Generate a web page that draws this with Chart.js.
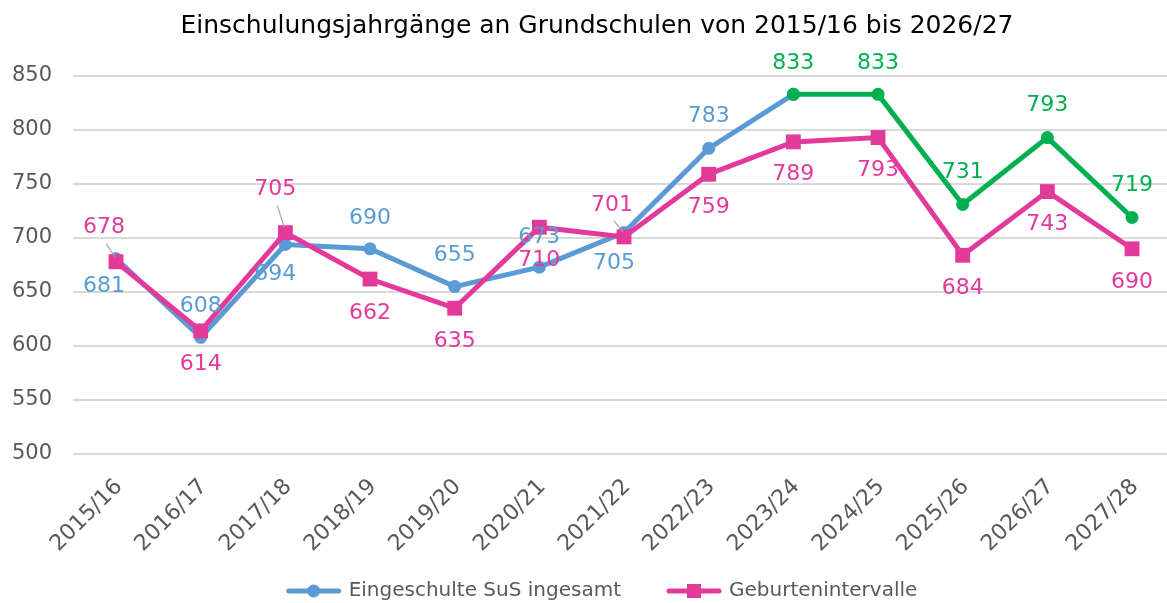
<!DOCTYPE html>
<html lang="de">
<head>
  <meta charset="UTF-8">
  <title>Einschulungsjahrgänge</title>
  <script src="https://cdn.jsdelivr.net/npm/chart.js"></script>
  <style>
    html, body {
      margin: 0;
      padding: 0;
      background: #ffffff;
    }
    .chart-box {
      position: relative;
      width: 1167px;
      height: 603px;
    }
  </style>
</head>
<body>
  <div class="chart-box">
    <canvas id="chart"></canvas>
  </div>
  <script>
    // Data
    const years = ['2015/16', '2016/17', '2017/18', '2018/19', '2019/20', '2020/21', '2021/22',
                   '2022/23', '2023/24', '2024/25', '2025/26', '2026/27', '2027/28'];
    const enrolled = [681, 608, 694, 690, 655, 673, 705, 783, 833, null, null, null, null];
    const forecast = [null, null, null, null, null, null, null, null, 833, 833, 731, 793, 719];
    const births = [678, 614, 705, 662, 635, 710, 701, 759, 789, 793, 684, 743, 690];
    const yTicks = [500, 550, 600, 650, 700, 750, 800, 850];

    const titleText = 'Einschulungsjahrgänge an Grundschulen von 2015/16 bis 2026/27';
    const FONT = "'DejaVu Sans', Verdana, sans-serif";

    const BLUE = '#5b9bd5';
    const PINK = '#e2399b';
    const GREEN = '#00b050';
    const GREY = '#595959';

    // label placement: [dx, dy, leader line?]
    const enrolledLabelPos = [[-12, 28], [0, -31], [-10, 30], [0, -31], [0, -31], [0, -30],
                              [-10, 31], [0, -32], null];
    const forecastLabelPos = [null, null, null, null, null, null, null, null,
                              [0, -31], [0, -31], [0, -32], [0, -32], [0, -32]];
    const birthsLabelPos = [[-12, -34, true], [0, 33], [-10, -43, true], [0, 34], [0, 33], [0, 33],
                            [-12, -32, true], [0, 33], [0, 32], [0, 33], [0, 33], [0, 33], [0, 33]];

    function toPoints(values) {
      return values.map((v, i) => ({ x: i, y: v }));
    }

    function drawGlyph(ctx, x, y, color, shape) {
      ctx.strokeStyle = color;
      ctx.lineWidth = 5;
      ctx.lineCap = 'round';
      ctx.beginPath();
      ctx.moveTo(x + 2, y);
      ctx.lineTo(x + 52, y);
      ctx.stroke();
      ctx.fillStyle = color;
      if (shape === 'circle') {
        ctx.beginPath();
        ctx.arc(x + 27, y, 6.5, 0, Math.PI * 2);
        ctx.fill();
      } else {
        ctx.fillRect(x + 20, y - 7, 14, 14);
      }
    }

    const titlePlugin = {
      id: 'titleText',
      afterDraw(chart) {
        const ctx = chart.ctx;
        ctx.save();
        ctx.font = '25px ' + FONT;
        ctx.fillStyle = '#000000';
        ctx.textAlign = 'center';
        ctx.textBaseline = 'middle';
        ctx.fillText(titleText, 597, 26);
        ctx.restore();
      }
    };

    // legend: line with marker, like the spreadsheet one; forecast series left out
    const legendPlugin = {
      id: 'lineLegend',
      afterDraw(chart) {
        const ctx = chart.ctx;
        const items = [chart.data.datasets[0], chart.data.datasets[2]];
        ctx.save();
        ctx.font = '20px ' + FONT;
        ctx.textBaseline = 'middle';
        ctx.textAlign = 'left';
        const widths = items.map(ds => 54 + 8 + ctx.measureText(ds.label).width);
        const gap = 46;
        let x = 602 - (widths[0] + widths[1] + gap) / 2;
        const y = 591;
        items.forEach((ds, i) => {
          drawGlyph(ctx, x, y, ds.borderColor, ds.pointStyle === 'rect' ? 'rect' : 'circle');
          ctx.fillStyle = GREY;
          ctx.fillText(ds.label, x + 62, y);
          x += widths[i] + gap;
        });
        ctx.restore();
      }
    };

    const valueLabels = {
      id: 'valueLabels',
      afterDatasetsDraw(chart) {
        const ctx = chart.ctx;
        ctx.save();
        ctx.font = '22px ' + FONT;
        ctx.textAlign = 'center';
        ctx.textBaseline = 'middle';
        chart.data.datasets.forEach((ds, di) => {
          const meta = chart.getDatasetMeta(di);
          meta.data.forEach((pt, i) => {
            const v = ds.data[i].y;
            const pos = ds.labelPos[i];
            if (v == null || !pos) return;
            const lx = pt.x + pos[0];
            const ly = pt.y + pos[1];
            if (pos[2]) {
              ctx.strokeStyle = '#a6a6a6';
              ctx.lineWidth = 1.2;
              ctx.beginPath();
              ctx.moveTo(lx + 2, ly + 16);
              ctx.lineTo(pt.x - 1, pt.y - 5);
              ctx.stroke();
            }
            ctx.fillStyle = ds.borderColor;
            ctx.fillText(String(v), lx, ly);
          });
        });
        ctx.restore();
      }
    };

    new Chart(document.getElementById('chart'), {
      type: 'line',
      data: {
        datasets: [
          {
            label: 'Eingeschulte SuS ingesamt',
            data: toPoints(enrolled),
            labelPos: enrolledLabelPos,
            borderColor: BLUE,
            backgroundColor: BLUE,
            borderWidth: 5,
            pointStyle: 'circle',
            pointRadius: 6.5,
            pointHoverRadius: 6.5,
            pointBorderWidth: 0,
            order: 2
          },
          {
            label: 'Prognose',
            data: toPoints(forecast),
            labelPos: forecastLabelPos,
            borderColor: GREEN,
            backgroundColor: GREEN,
            borderWidth: 5,
            pointStyle: 'circle',
            pointRadius: 6.5,
            pointHoverRadius: 6.5,
            pointBorderWidth: 0,
            order: 1
          },
          {
            label: 'Geburtenintervalle',
            data: toPoints(births),
            labelPos: birthsLabelPos,
            borderColor: PINK,
            backgroundColor: PINK,
            borderWidth: 5,
            pointStyle: 'rect',
            pointRadius: 10.5,
            pointHoverRadius: 10.5,
            pointBorderWidth: 0,
            order: 0
          }
        ]
      },
      options: {
        responsive: true,
        maintainAspectRatio: false,
        animation: false,
        layout: {
          autoPadding: false,
          padding: { top: 76, right: 0, bottom: 0, left: 0 }
        },
        scales: {
          x: {
            type: 'linear',
            min: -0.508,
            max: 12.413,
            afterBuildTicks(scale) {
              scale.ticks = years.map((y, i) => ({ value: i }));
            },
            afterFit(scale) {
              scale.height = 149;
              scale.paddingRight = 0;
              scale.paddingLeft = 0;
            },
            grid: { display: false, drawTicks: false },
            border: { display: false },
            ticks: {
              callback: (value) => years[value],
              minRotation: 45,
              maxRotation: 45,
              padding: 20,
              labelOffset: 3,
              color: GREY,
              font: { family: FONT, size: 22 }
            }
          },
          y: {
            min: 500,
            max: 850,
            afterBuildTicks(scale) {
              scale.ticks = yTicks.map(v => ({ value: v }));
            },
            afterFit(scale) {
              scale.width = 73;
            },
            grid: { color: '#d9d9d9', lineWidth: 2, drawTicks: false },
            border: { display: false },
            ticks: {
              padding: 21,
              color: GREY,
              font: { family: FONT, size: 21 }
            }
          }
        },
        plugins: {
          title: { display: false },
          legend: { display: false },
          tooltip: { enabled: false }
        }
      },
      plugins: [titlePlugin, valueLabels, legendPlugin]
    });
  </script>
</body>
</html>
